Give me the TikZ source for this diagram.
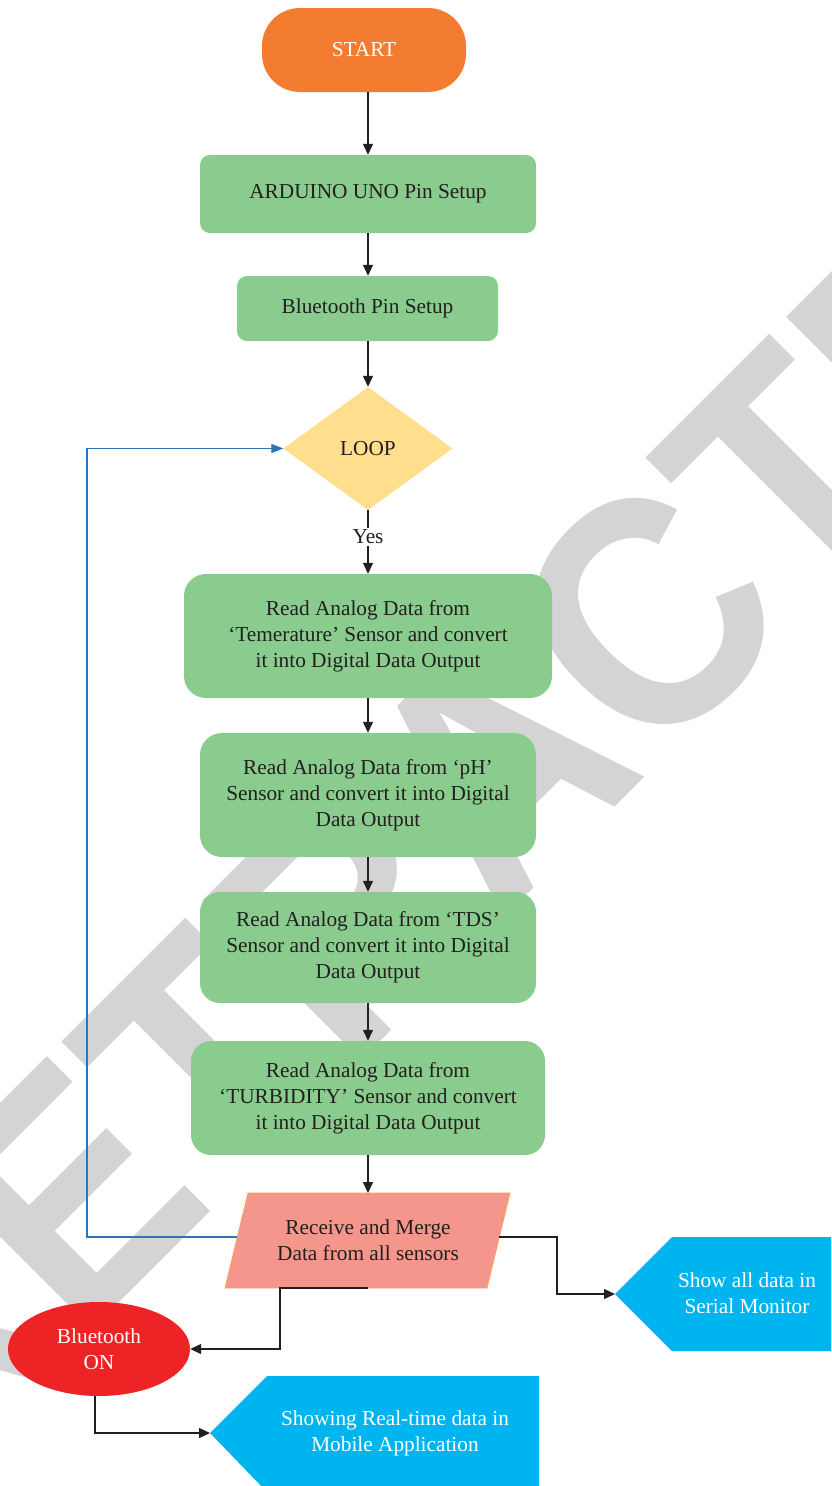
\documentclass[tikz,border=0pt]{standalone}
\usepackage{fontspec}
\setmainfont{Liberation Serif}
\newfontfamily\wmfont{Liberation Sans}
\usetikzlibrary{shapes.geometric,arrows.meta,calc}
\definecolor{orng}{RGB}{244,124,48}
\definecolor{grn}{RGB}{137,204,142}
\definecolor{yel}{RGB}{255,223,142}
\definecolor{salmon}{RGB}{244,150,140}
\definecolor{salmonedge}{RGB}{249,164,98}
\definecolor{cyn}{RGB}{0,181,239}
\definecolor{rd}{RGB}{237,35,38}
\definecolor{bl}{RGB}{46,117,182}
\definecolor{txt}{RGB}{35,31,32}
\definecolor{wmgray}{RGB}{212,212,212}
\newcommand\boxfont{\fontsize{21.3}{26}\selectfont}
\begin{document}
\begin{tikzpicture}[x=1pt,y=-1pt,
  box/.style={fill=grn, rounded corners=#1, text=txt, align=center, font=\boxfont, inner sep=0pt},
  box/.default=22pt,
  wtext/.style={text=white, align=center, font=\boxfont, inner sep=0pt},
  arr/.style={draw=txt, line width=1.3pt, -{Triangle[length=11pt,width=10pt]}},
  bluearr/.style={draw=bl, line width=1.3pt, -{Triangle[length=12pt,width=9pt]}},
  watermark/.style={anchor=base, rotate=45, inner sep=0pt, text=wmgray, font=\wmfont\bfseries\fontsize{327}{327}\selectfont}
]
\useasboundingbox (0,0) rectangle (831,1486);
\clip (0,0) rectangle (831,1486);
\fill[white] (0,0) rectangle (831,1486);

% watermark
\node[watermark] (wm) at (575,847) {\scalebox{0.91}[1]{RETRACTED}};

% nodes
\node[fill=orng, rounded corners=38pt, minimum width=204pt, minimum height=84pt, text=white, font=\boxfont, inner sep=0pt] (start) at (364,50) {START};
\node[box=10pt, minimum width=336pt, minimum height=78pt] (ard) at (368,194) {ARDUINO UNO Pin Setup};
\node[box=10pt, minimum width=261pt, minimum height=65pt] (bts) at (367.5,308.5) {Bluetooth Pin Setup};
\node[diamond, fill=yel, minimum width=169pt, minimum height=123pt, inner sep=0pt, text=txt, font=\boxfont] (loop) at (368,448.5) {LOOP};
\node[box, minimum width=368pt, minimum height=124pt] (b1) at (368,636) {Read Analog Data from\\`Temerature' Sensor and convert\\it into Digital Data Output};
\node[box, minimum width=336pt, minimum height=124pt] (b2) at (368,795) {Read Analog Data from `pH'\\Sensor and convert it into Digital\\Data Output};
\node[box=20pt, minimum width=336pt, minimum height=111pt] (b3) at (368,947.5) {Read Analog Data from `TDS'\\Sensor and convert it into Digital\\Data Output};
\node[box=20pt, minimum width=354pt, minimum height=114pt] (b4) at (368,1098) {Read Analog Data from\\`TURBIDITY' Sensor and convert\\it into Digital Data Output};

% parallelogram
\coordinate (mergeT) at (368,1193);
\coordinate (mergeB) at (368,1288);
\coordinate (mergeL) at (237,1237);
\coordinate (mergeR) at (499,1237);
\draw[fill=salmon, draw=salmonedge, line width=0.8pt] (248,1193) -- (510,1193) -- (487,1288) -- (225,1288) -- cycle;
\node[text=txt, align=center, font=\boxfont, inner sep=0pt] (merge) at (368,1240) {Receive and Merge\\Data from all sensors};

% serial monitor shape
\coordinate (serialTip) at (615,1294);
\fill[cyn] (serialTip) -- ++(57,-57) -- (840,1237) -- (840,1351) -- (672,1351) -- cycle;
\node[wtext] (serial) at (747,1293) {Show all data in\\Serial Monitor};

% bluetooth on
\node[ellipse, fill=rd, minimum width=182pt, minimum height=94pt, inner sep=0pt, text=white, align=center, font=\boxfont] (bt) at (99,1349) {Bluetooth\\ON};

% mobile shape
\coordinate (mobileTip) at (210,1433);
\fill[cyn] (mobileTip) -- ++(57,-57) -- (539,1376) -- (539,1492) -- (267,1492) -- cycle;
\node[wtext] (mobile) at (395,1433) {Showing Real-time data in\\Mobile Application};

% connectors
\draw[arr] (start.south -| ard.north) -- (ard.north);
\draw[arr] (ard.south) -- (bts.north -| ard.south);
\draw[arr] (bts.south -| loop.north) -- (loop.north);
\draw[arr] (loop.south) -- node[pos=0.42, fill=white, text=txt, font=\boxfont, inner sep=2pt] (yes) {Yes} (b1.north);
\draw[arr] (b1.south) -- (b2.north);
\draw[arr] (b2.south) -- (b3.north);
\draw[arr] (b3.south) -- (b4.north);
\draw[arr] (b4.south) -- (mergeT);
\draw[bluearr] (mergeL) -- ++(-150,0) |- (loop.west);
\draw[arr] (mergeR) -- ++(58,0) |- (serialTip);
\draw[arr] (mergeB) -- ++(-88,0) |- (bt.east);
\draw[arr] ([xshift=-4pt]bt.south) |- (mobileTip);
\end{tikzpicture}
\end{document}
